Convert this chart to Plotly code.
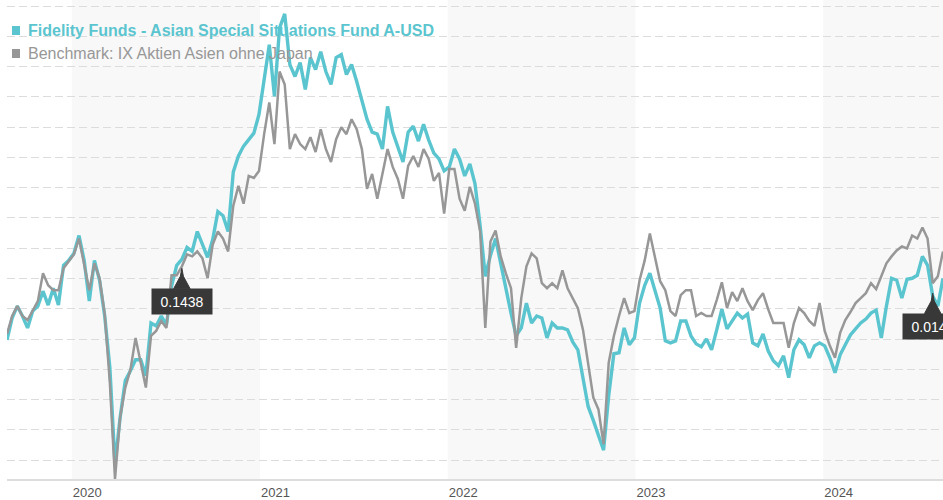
import pandas as pd
import plotly.graph_objects as go

# ---- data (cumulative performance in %) ----
dates = pd.date_range("2019-08-28", periods=183, freq="10D")

fund = [
    0.0, 4.4, 6.8, 4.8, 2.4, 5.8, 6.8, 9.8, 7.0, 10.4,
    7.0, 15.0, 16.0, 17.4, 21.0, 16.0, 7.8, 16.0, 12.0, 4.8,
    -5.6, -25.0, -15.6, -8.2, -6.2, -4.0, -4.0, -7.2, 3.4, 2.8,
    4.8, 3.0, 10.8, 15.0, 16.2, 18.6, 17.8, 21.8, 19.2, 16.6,
    20.2, 25.8, 25.0, 21.8, 33.8, 37.0, 39.0, 40.4, 41.6, 45.4,
    52.8, 59.4, 49.0, 62.8, 65.6, 55.4, 53.0, 55.8, 50.4, 56.8,
    54.4, 58.0, 54.0, 51.4, 56.8, 57.4, 53.4, 55.4, 52.0, 48.0,
    44.4, 41.8, 41.4, 38.4, 47.0, 41.8, 39.0, 35.8, 41.8, 43.0,
    40.0, 43.4, 40.2, 37.6, 36.4, 34.0, 34.8, 38.4, 36.4, 33.0,
    35.4, 31.4, 23.0, 12.8, 17.0, 20.4, 15.4, 10.0, 5.4, 0.8,
    2.4, 7.4, 3.4, 4.8, 4.4, 0.4, 3.4, 2.4, 2.4, 2.0,
    -0.4, -2.0, -7.6, -13.4, -16.2, -19.2, -22.2, -11.2, -2.8, -2.6,
    2.4, -1.0, 0.4, 7.4, 11.0, 13.4, 10.0, 6.4, -0.2, -0.6,
    -0.2, 3.8, 3.8, 0.8, -0.8, -1.4, 0.2, -2.0, 2.0, 6.2,
    2.2, 3.8, 5.4, 4.4, 5.2, -0.6, -1.2, 1.2, -2.2, -4.2,
    -5.2, -3.2, -7.6, -2.0, 0.0, -1.0, -3.6, -1.2, -0.6, -1.2,
    -3.6, -6.6, -3.0, -1.0, 1.0, 2.2, 3.4, 4.2, 5.4, 6.0,
    0.4, 6.8, 12.4, 12.0, 8.4, 12.2, 12.4, 13.0, 16.8, 15.0,
    8.8, 6.8, 12.4,
]

bench = [
    1.2, 4.8, 6.8, 4.8, 4.0, 6.0, 7.8, 13.4, 11.0, 10.0,
    10.0, 14.4, 15.8, 17.2, 20.4, 15.4, 10.0, 15.4, 12.4, 5.2,
    -8.6, -28.0, -15.6, -9.6, -6.0, 0.4, -4.4, -9.6, 0.8, 1.8,
    3.8, 2.4, 13.0, 13.0, 14.8, 17.2, 16.8, 17.8, 16.4, 12.4,
    19.2, 21.8, 20.4, 17.8, 27.0, 31.0, 27.4, 33.0, 32.6, 34.0,
    41.4, 47.8, 39.4, 54.0, 51.4, 38.4, 41.4, 39.4, 38.4, 40.8,
    37.8, 42.4, 38.4, 35.8, 40.4, 42.8, 41.4, 44.4, 42.4, 38.4,
    30.4, 33.4, 28.4, 33.4, 38.4, 34.8, 32.4, 28.4, 35.0, 37.0,
    34.8, 38.4, 36.4, 32.0, 33.6, 25.4, 34.4, 34.4, 28.4, 26.0,
    30.8, 27.4, 21.8, 2.4, 19.8, 22.0, 16.8, 13.4, 10.4, -1.6,
    8.4, 14.8, 17.4, 16.4, 11.4, 10.4, 11.4, 10.4, 14.0, 10.4,
    8.4, 6.4, 2.0, -4.6, -11.6, -14.0, -21.0, -4.6, 0.8, 4.8,
    8.4, 5.4, 5.8, 12.0, 16.0, 21.4, 16.4, 11.8, 10.0, 5.8,
    4.8, 9.0, 10.0, 10.0, 4.8, 5.4, 4.8, 4.8, 8.0, 11.6,
    6.4, 9.6, 7.8, 10.4, 7.8, 6.0, 8.0, 9.4, 6.2, 3.4,
    3.4, 3.4, -1.6, 3.4, 6.4, 5.4, 3.8, 2.8, 7.4, 1.8,
    -1.2, -3.6, 1.4, 4.0, 5.6, 7.4, 8.4, 9.4, 11.4, 10.2,
    12.8, 15.4, 16.8, 18.0, 18.8, 18.4, 21.0, 20.4, 22.6, 20.4,
    11.4, 12.8, 17.8,
]

fund_name = "Fidelity Funds - Asian Special Situations Fund A-USD"
bench_name = "Benchmark: IX Aktien Asien ohne Japan"

flag_dates = ["2020-08-02", "2024-08-01"]
flag_values = [14.4, 9.4]
flag_labels = ["0.1438", "0.0142"]

year_ticks = ["2020-01-01", "2021-01-01", "2022-01-01", "2023-01-01", "2024-01-01"]
year_labels = ["2020", "2021", "2022", "2023", "2024"]
band_years = [2020, 2022, 2024]

# ---- styling ----
CYAN = "#5bc5cf"
GRAY = "#979797"
FONT = "Liberation Sans, Arial, sans-serif"

fig = go.Figure()

fig.add_trace(go.Scatter(x=dates, y=fund, mode="lines", name=fund_name,
                         line=dict(color=CYAN, width=3.4), hoverinfo="skip"))
fig.add_trace(go.Scatter(x=dates, y=bench, mode="lines", name=bench_name,
                         line=dict(color=GRAY, width=2.5), hoverinfo="skip"))

# dividend flags: triangle pointer + dark label box
for d, v, lab in zip(flag_dates, flag_values, flag_labels):
    dt = pd.Timestamp(d)
    half = pd.Timedelta(days=16)
    fig.add_trace(go.Scatter(
        x=[dt, dt + pd.Timedelta(days=3), dt + half, dt - half, dt - pd.Timedelta(days=3), dt],
        y=[v, v - 1.6, v - 4.1, v - 4.1, v - 1.6, v],
        mode="lines", fill="toself", fillcolor="#383838",
        line=dict(color="#383838", width=1), hoverinfo="skip", showlegend=False))
    fig.add_annotation(x=dt, y=v, xref="x", yref="y", text=lab, showarrow=False,
                       yanchor="top", yshift=-20, bgcolor="#383838", borderpad=4,
                       width=52, height=17,
                       font=dict(family=FONT, size=14, color="white"))

shapes = []
for yr in band_years:
    shapes.append(dict(type="rect", xref="x", yref="paper",
                       x0=f"{yr}-01-01", x1=f"{yr + 1}-01-01", y0=0, y1=1,
                       fillcolor="#f8f8f8", line=dict(width=0), layer="below"))

# legend squares
shapes.append(dict(type="rect", xref="paper", yref="paper", xsizemode="pixel",
                   ysizemode="pixel", xanchor=0, yanchor=1,
                   x0=5, x1=13, y0=-26, y1=-35, fillcolor=CYAN, line=dict(width=0)))
shapes.append(dict(type="rect", xref="paper", yref="paper", xsizemode="pixel",
                   ysizemode="pixel", xanchor=0, yanchor=1,
                   x0=5, x1=13, y0=-49, y1=-58, fillcolor=GRAY, line=dict(width=0)))

fig.add_annotation(x=0, y=1, xref="paper", yref="paper", xanchor="left", yanchor="middle",
                   xshift=19, yshift=-30, showarrow=False, text=f"<b>{fund_name}</b>",
                   font=dict(family=FONT, size=16, color=CYAN))
fig.add_annotation(x=0, y=1, xref="paper", yref="paper", xanchor="left", yanchor="middle",
                   xshift=19, yshift=-53.5, showarrow=False, text=bench_name,
                   font=dict(family=FONT, size=16, color=GRAY))

fig.update_layout(
    width=943, height=500,
    margin=dict(l=7, r=0, t=0, b=18),
    paper_bgcolor="white", plot_bgcolor="white",
    showlegend=False,
    shapes=shapes,
    font=dict(family=FONT),
    xaxis=dict(
        range=["2019-08-28", "2024-08-21"],
        showgrid=False, zeroline=False,
        showline=True, linecolor="#dddddd", linewidth=2,
        tickmode="array", tickvals=year_ticks, ticktext=year_labels,
        ticks="", ticklabelposition="outside right",
        tickfont=dict(family=FONT, size=13, color="#555555"),
    ),
    yaxis=dict(
        range=[-28.0, 68.4],
        showticklabels=False, ticks="", zeroline=False,
        showgrid=True, gridcolor="#dcdcdc", gridwidth=1, griddash="8px,4px",
        tickmode="linear", tick0=67.16, dtick=6.09,
    ),
)

fig.write_html("out.html", config={"displayModeBar": False},
               post_script="document.body.style.margin='0';document.body.style.overflow='hidden';")
